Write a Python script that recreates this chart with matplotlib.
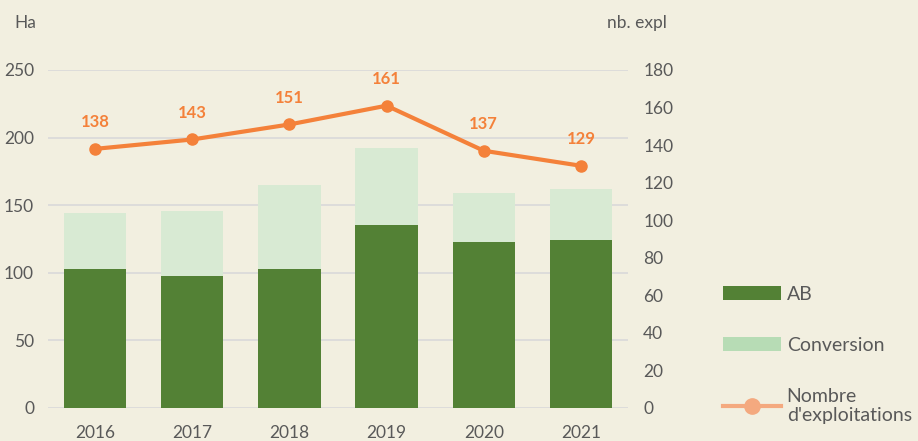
import matplotlib.pyplot as plt
from matplotlib.patches import Patch
from matplotlib.lines import Line2D
import numpy as np

# data
years = ['2016', '2017', '2018', '2019', '2020', '2021']
ab = [103, 98, 103, 135, 123, 124]
conversion = [41, 48, 62, 57, 36, 38]
nb_expl = [138, 143, 151, 161, 137, 129]

bg = '#F2EFE0'
dark_green = '#538135'
light_green = '#D8EAD3'
orange = '#F4813A'
grey_txt = '#595959'

plt.rcParams['font.family'] = ['Lato', 'DejaVu Sans']

fig = plt.figure(figsize=(9.18, 4.41), dpi=100)
fig.patch.set_facecolor(bg)
ax = fig.add_axes([48 / 918, 1 - 408 / 441, 580 / 918, 338 / 441])
ax.set_facecolor(bg)

x = np.arange(len(years))
ax.bar(x, ab, width=0.64, color=dark_green, zorder=2)
ax.bar(x, conversion, width=0.64, bottom=ab, color=light_green, zorder=2)
ax.set_xlim(-0.485, 5.485)
ax.set_ylim(0, 250)
ax.set_yticks(range(0, 251, 50))
ax.set_xticks(x)
ax.set_xticklabels(years)
ax.yaxis.grid(True, color='#D9D9D9', linewidth=1.2, zorder=0)
ax.set_axisbelow(True)
for s in ax.spines.values():
    s.set_visible(False)
ax.tick_params(axis='both', length=0, labelsize=12.5, colors=grey_txt)
ax.tick_params(axis='y', pad=10)
ax.tick_params(axis='x', pad=12)

ax2 = ax.twinx()
ax2.plot(x, nb_expl, color=orange, linewidth=3, marker='o', markersize=8, zorder=3)
ax2.set_ylim(0, 180)
ax2.set_yticks(range(0, 181, 20))
for s in ax2.spines.values():
    s.set_visible(False)
ax2.tick_params(axis='y', length=0, labelsize=12.5, colors=grey_txt, pad=11)
for xi, v in zip(x, nb_expl):
    ax2.annotate(str(v), (xi, v), xytext=(0, 19), textcoords='offset points',
                 ha='center', va='center', color=orange, fontsize=12,
                 fontweight='bold', annotation_clip=False)

fig.text(25 / 918, 1 - 23 / 441, 'Ha', ha='center', va='center', fontsize=12.5, color=grey_txt)
fig.text(667 / 918, 1 - 23 / 441, 'nb. expl', ha='right', va='center', fontsize=12.5, color=grey_txt)

handles = [Patch(facecolor=dark_green), Patch(facecolor='#B7DCB5'),
           Line2D([0], [0], color='#F4A97F', linewidth=3, marker='o', markersize=11)]
leg = fig.legend(handles, ['AB', 'Conversion', "Nombre\nd'exploitations"],
                 loc='upper left', bbox_to_anchor=(705 / 918, 1 - 268 / 441),
                 frameon=False, fontsize=14, labelcolor=grey_txt,
                 handlelength=3.0, handleheight=0.7, handletextpad=0.3, labelspacing=1.75)

plt.savefig('out.png', dpi=100, facecolor=bg)
